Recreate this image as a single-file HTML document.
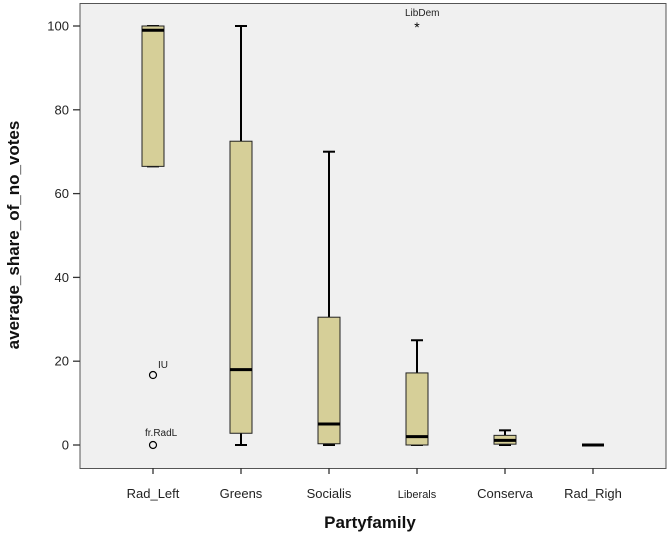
<!DOCTYPE html>
<html><head><meta charset="utf-8"><style>
body{margin:0;background:#fff;}
svg{display:block;font-family:"Liberation Sans",sans-serif;}
</style></head><body>
<svg id="chart" width="670" height="535">
<rect x="80" y="3.5" width="586" height="465" fill="#f0f0f0" stroke="#555" stroke-width="1"/>
<g id="g"></g>
<text x="0" y="0" transform="translate(19,235) rotate(-90)" text-anchor="middle" font-size="17" font-weight="bold" fill="#111">average_share_of_no_votes</text>
<text x="370" y="528" text-anchor="middle" font-size="17" font-weight="bold" fill="#111">Partyfamily</text>
</svg>
<script>
const categories=["Rad_Left","Greens","Socialis","Liberals","Conserva","Rad_Righ"];
const mins=[66.5,0,0,0,0,0];
const q1s=[66.5,2.8,0.3,0,0.2,0];
const medians=[99,18,5,2,1.1,0];
const q3s=[100,72.5,30.5,17.2,2.3,0];
const maxs=[100,100,70,25,3.5,0];
const outlierCats=[0,0,3];
const outlierVals=[16.7,0,100];
const outlierLabels=["IU","fr.RadL","LibDem"];
const outlierExtreme=[false,false,true];
const yTicks=[0,20,40,60,80,100];
const NS="http://www.w3.org/2000/svg";
const g=document.getElementById('g');
const y=v=>445-v*4.19;
const x=i=>153+i*88;
function mk(t,a){const e=document.createElementNS(NS,t);for(const k in a)e.setAttribute(k,a[k]);g.appendChild(e);return e;}
yTicks.forEach(v=>{
 const t=mk('line',{x1:73,x2:80,y1:y(v),y2:y(v),stroke:'#333','stroke-width':1.3});
 
 
 const l=mk('text',{x:69,y:y(v)+4.5,'text-anchor':'end','font-size':13,fill:'#222'});
 l.textContent=v;
 
 
});
categories.forEach((c,i)=>{
 const cx=x(i);
 const t=mk('line',{x1:cx,x2:cx,y1:468,y2:474,stroke:'#333','stroke-width':1.3});
 
 
 const l=mk('text',{x:cx,y:498,'text-anchor':'middle','font-size':c==='Liberals'?11:13,fill:'#222'});
 l.textContent=c;
 
 
 const w1=mk('line',{x1:cx,x2:cx,y1:y(maxs[i]),y2:y(q3s[i]),stroke:'#000','stroke-width':2});
 
 
 const w2=mk('line',{x1:cx,x2:cx,y1:y(q1s[i]),y2:y(mins[i]),stroke:'#000','stroke-width':2});
 
 
 const c1=mk('line',{x1:cx-6,x2:cx+6,y1:y(maxs[i]),y2:y(maxs[i]),stroke:'#000','stroke-width':2});
 
 
 const c2=mk('line',{x1:cx-6,x2:cx+6,y1:y(mins[i]),y2:y(mins[i]),stroke:'#000','stroke-width':2});
 
 
 const b=mk('rect',{x:cx-11,y:y(q3s[i]),width:22,height:Math.max(0,y(q1s[i])-y(q3s[i])),fill:'#d6cf98',stroke:'#222','stroke-width':1});
 
 
 const m=mk('line',{x1:cx-11,x2:cx+11,y1:y(medians[i]),y2:y(medians[i]),stroke:'#000','stroke-width':3});
 
 
});
outlierVals.forEach((v,k)=>{
 const cx=x(outlierCats[k]),cy=y(v);
 let p;
 if(outlierExtreme[k]){p=mk('text',{x:cx,y:cy+6,'text-anchor':'middle','font-size':14,fill:'#000'});p.textContent='*';}
 else p=mk('circle',{cx:cx,cy:cy,r:3.5,fill:'none',stroke:'#000','stroke-width':1.2});
 
 
 const l=mk('text',{x:outlierExtreme[k]?cx-12:(k===0?cx+5:cx-8),y:outlierExtreme[k]?cy-10:(k===0?cy-7:cy-9),'font-size':10,fill:'#222'});
 l.textContent=outlierLabels[k];
 
 
});
</script>
</body></html>
